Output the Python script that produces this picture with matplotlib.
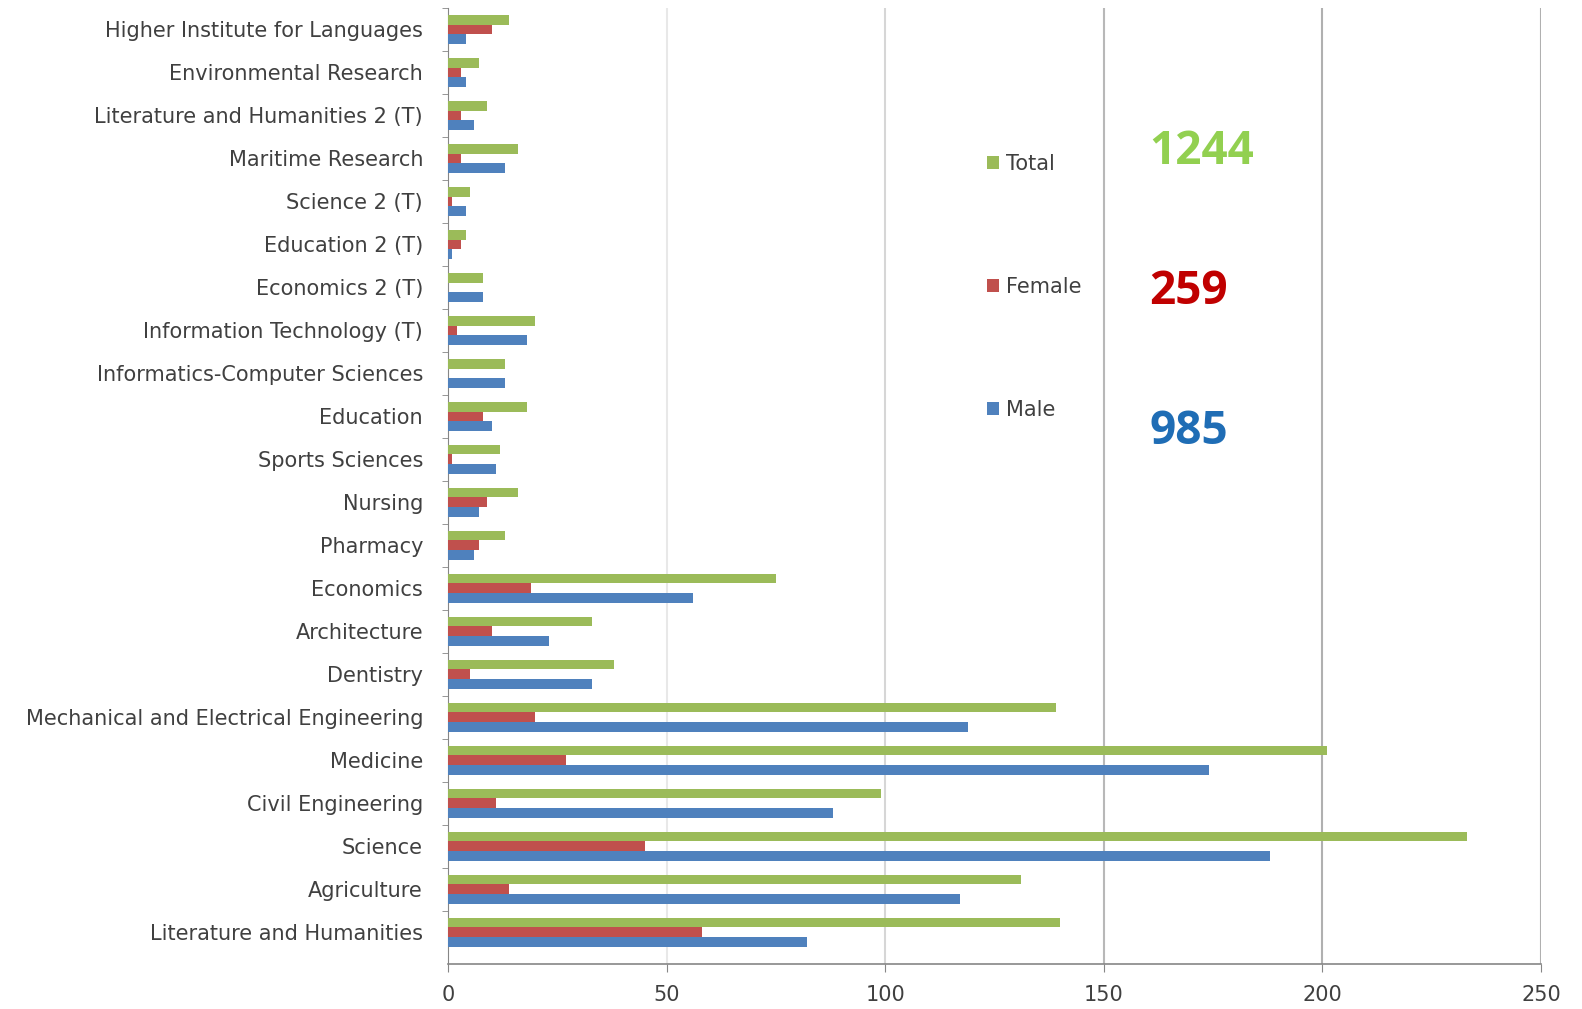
import matplotlib
matplotlib.use("Agg")
import matplotlib.pyplot as plt
import numpy as np

categories = [
    "Literature and Humanities", "Agriculture", "Science", "Civil Engineering",
    "Medicine", "Mechanical and Electrical Engineering", "Dentistry", "Architecture",
    "Economics", "Pharmacy", "Nursing", "Sports Sciences", "Education",
    "Informatics-Computer Sciences", "Information Technology (T)", "Economics 2 (T)",
    "Education 2 (T)", "Science 2 (T)", "Maritime Research",
    "Literature and Humanities 2 (T)", "Environmental Research",
    "Higher Institute for Languages",
]
male = [82, 117, 188, 88, 174, 119, 33, 23, 56, 6, 7, 11, 10, 13, 18, 8, 1, 4, 13, 6, 4, 4]
female = [58, 14, 45, 11, 27, 20, 5, 10, 19, 7, 9, 1, 8, 0, 2, 0, 3, 1, 3, 3, 3, 10]
total = [140, 131, 233, 99, 201, 139, 38, 33, 75, 13, 16, 12, 18, 13, 20, 8, 4, 5, 16, 9, 7, 14]
x_ticks = [0, 50, 100, 150, 200, 250]

c_male, c_female, c_total = "#4F81BD", "#C0504D", "#9BBB59"

plt.rcParams['font.family'] = ['DejaVu Sans']

fig = plt.figure(figsize=(15.82, 10.09), dpi=100)
ax = fig.add_axes([0.2832, 0.0446, 0.6909, 0.9475])

y = np.arange(len(categories))
h = 0.225
b_total = ax.barh(y + h, total, height=h, color=c_total, label="Total", zorder=3)
b_female = ax.barh(y, female, height=h, color=c_female, label="Female", zorder=3)
b_male = ax.barh(y - h, male, height=h, color=c_male, label="Male", zorder=3)

ax.set_xlim(0, 250)
ax.set_ylim(-0.74, len(categories) - 0.5)
ax.set_xticks(x_ticks)
ax.set_xticklabels([str(v) for v in x_ticks])
ax.set_yticks(y)
ax.set_yticklabels(categories)
ax.set_yticks(np.arange(len(categories)) + 0.5, minor=True)

grid_colors = ['#ffffff', '#e8e8e8', '#d6d6d6', '#b8b8b8', '#b0b0b0', '#b0b0b0']
for xv, gc in zip(x_ticks[1:], grid_colors[1:]):
    ax.axvline(xv, color=gc, lw=1.5, zorder=0)
for s in ['top', 'right']:
    ax.spines[s].set_visible(False)
ax.spines['left'].set_color('#868686')
ax.spines['bottom'].set_color('#868686')
ax.spines['bottom'].set_linewidth(1.2)

ax.tick_params(axis='y', which='major', length=0, pad=18, labelsize=15, labelcolor='#404040')
ax.tick_params(axis='y', which='minor', length=4, color='#868686')
ax.tick_params(axis='x', length=6, color='#868686', pad=9, labelsize=15, labelcolor='#404040')

leg = ax.legend(handles=[b_total, b_female, b_male], loc='center left',
                bbox_to_anchor=(0.612, 1 - 287 / 1009), bbox_transform=fig.transFigure,
                frameon=False, fontsize=15, labelspacing=4.95,
                handlelength=0.6, handleheight=0.6, handletextpad=0.3)
for t in leg.get_texts():
    t.set_color('#404040')

fig.text(1202 / 1582, 1 - 152 / 1009, "1244", color="#92D050", fontsize=33,
         fontweight='bold', ha='center', va='center', family='Open Sans')
fig.text(1189 / 1582, 1 - 291 / 1009, "259", color="#C00000", fontsize=33,
         fontweight='bold', ha='center', va='center', family='Open Sans')
fig.text(1189 / 1582, 1 - 432 / 1009, "985", color="#1F6DB5", fontsize=33,
         fontweight='bold', ha='center', va='center', family='Open Sans')

fig.savefig("out.png", dpi=100)
